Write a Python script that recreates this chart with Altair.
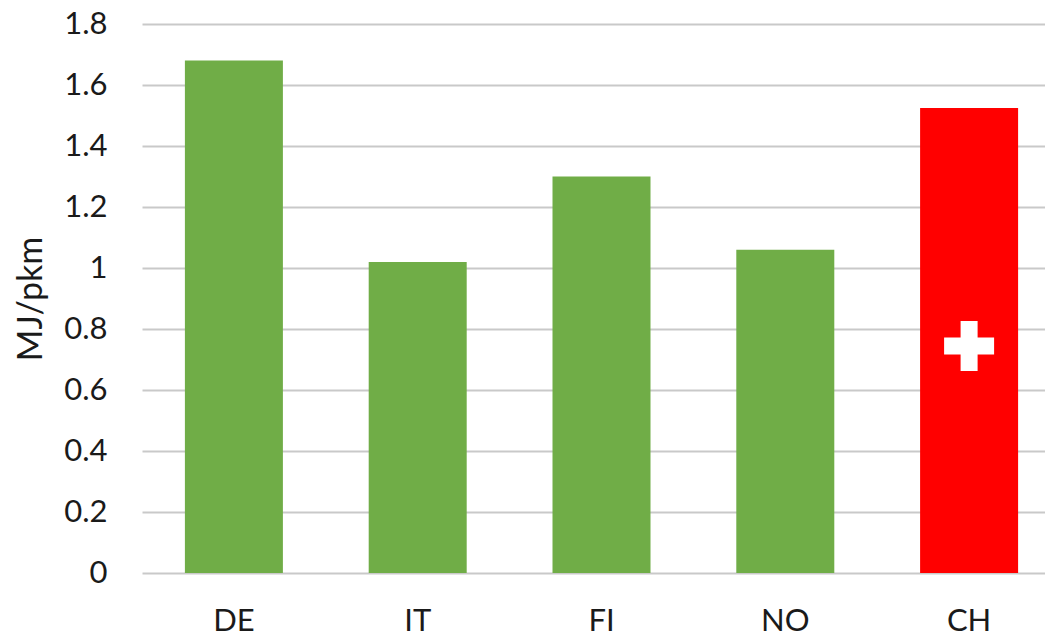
import altair as alt
import pandas as pd

categories = ["DE", "IT", "FI", "NO", "CH"]
values = [1.68, 1.02, 1.30, 1.06, 1.525]
bar_colors = ["#70AD47", "#70AD47", "#70AD47", "#70AD47", "#FF0000"]
y_ticks = [0, 0.2, 0.4, 0.6, 0.8, 1, 1.2, 1.4, 1.6, 1.8]
marker_category = ["CH"]
marker_value = [0.744]

FONT = "Lato"
CROSS = "M-0.34,-1H0.34V-0.34H1V0.34H0.34V1H-0.34V0.34H-1V-0.34H-0.34Z"

df = pd.DataFrame({"cat": categories, "val": values, "col": bar_colors})
dm = pd.DataFrame({"cat": marker_category, "val": marker_value})

x = alt.X(
    "cat:N",
    sort=categories,
    scale=alt.Scale(domain=categories, range=[0, 919], paddingInner=0, paddingOuter=0),
    axis=alt.Axis(
        title=None, domain=False, ticks=False, grid=False, labelAngle=0,
        labelFont=FONT, labelFontSize=31, labelColor="#1a1a1a",
        labelBaseline="middle", labelPadding=48,
    ),
)
y = alt.Y(
    "val:Q",
    scale=alt.Scale(domain=[0, 1.8], nice=False),
    axis=alt.Axis(
        title="MJ/pkm", values=y_ticks, domain=False, ticks=False, grid=True,
        gridColor="#c9c9c9", gridWidth=2,
        labelFont=FONT, labelFontSize=31, labelColor="#1a1a1a", labelPadding=35,
        labelExpr="format(datum.value, '.10~f')",
        titleFont=FONT, titleFontSize=34, titleFontWeight="normal", titleColor="#1a1a1a",
        titlePadding=15,
    ),
)

bars = alt.Chart(df).mark_bar(size=98).encode(
    x=x, y=y, color=alt.Color("col:N", scale=None, legend=None)
)
cross = alt.Chart(dm).mark_point(
    shape=CROSS, filled=True, size=2500, color="white", opacity=1
).encode(x=x, y=y)

chart = (
    alt.layer(bars, cross)
    .properties(
        width=903, height=549,
        padding={"left": 134, "top": 16, "right": 0, "bottom": 63},
        autosize=alt.AutoSizeParams(type="none"),
        background="white",
    )
    .configure_view(stroke=None)
)
chart.save("out.html", embed_options={"renderer": "svg", "actions": False})
